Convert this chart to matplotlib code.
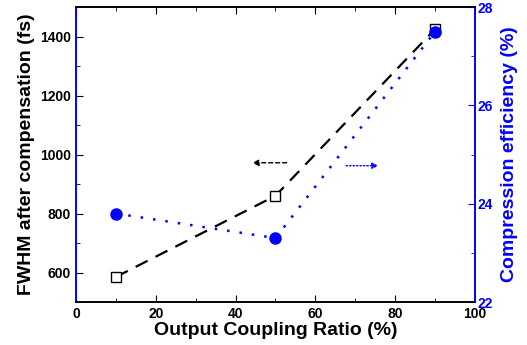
import matplotlib
matplotlib.use("Agg")
import matplotlib.pyplot as plt
from matplotlib.ticker import MultipleLocator

plt.rcParams['font.family'] = ['Liberation Sans', 'DejaVu Sans']
plt.rcParams['font.weight'] = 'bold'

# data
ratio = [10, 50, 90]
fwhm = [585, 860, 1425]
efficiency = [23.8, 23.3, 27.5]

BLUE = '#0000ff'

fig = plt.figure(figsize=(5.27, 3.45), dpi=100)
ax = fig.add_axes([0.1442, 0.1246, 0.7571, 0.8551])
ax2 = ax.twinx()

ax.plot(ratio, fwhm, color='black', linestyle=(0, (6, 4)), linewidth=1.6,
        marker='s', markersize=7.5, markerfacecolor='white', markeredgecolor='black',
        markeredgewidth=1.0, zorder=3)
ax2.plot(ratio, efficiency, color=BLUE, linestyle=(0, (1, 4)), linewidth=1.8,
         marker='o', markersize=8, markerfacecolor=BLUE, markeredgecolor=BLUE, zorder=4)

ax.set_xlim(0, 100)
ax.set_ylim(500, 1500)
ax2.set_ylim(22, 28)

ax.xaxis.set_major_locator(MultipleLocator(20))
ax.xaxis.set_minor_locator(MultipleLocator(10))
ax.yaxis.set_major_locator(MultipleLocator(200))
ax.yaxis.set_minor_locator(MultipleLocator(100))
ax2.yaxis.set_major_locator(MultipleLocator(2))
ax2.yaxis.set_minor_locator(MultipleLocator(1))

ax.tick_params(axis='x', which='both', direction='in', top=True, labelsize=10)
ax.tick_params(axis='x', which='major', length=5)
ax.tick_params(axis='x', which='minor', length=3)
ax.tick_params(axis='y', which='major', direction='in', length=5, labelsize=10)
ax.tick_params(axis='y', which='minor', direction='in', length=3)
ax2.tick_params(axis='y', which='major', direction='in', length=5, labelsize=10,
                colors=BLUE, labelcolor=BLUE, pad=2)
ax2.tick_params(axis='y', which='minor', direction='in', length=3, colors=BLUE)

for lbl in ax.get_xticklabels() + ax.get_yticklabels() + ax2.get_yticklabels():
    lbl.set_fontweight('bold')

ax2.spines['left'].set_color(BLUE)
ax2.spines['right'].set_color(BLUE)
ax.spines['left'].set_color(BLUE)
ax.spines['right'].set_color(BLUE)
for sp in ['left', 'right', 'top', 'bottom']:
    ax.spines[sp].set_linewidth(1.2)
    ax2.spines[sp].set_linewidth(1.2)

ax.set_xlabel('Output Coupling Ratio (%)', fontsize=14, fontweight='bold', labelpad=1)
ax.set_ylabel('FWHM after compensation (fs)', fontsize=14, fontweight='bold', labelpad=4)
ax2.set_ylabel('Compression efficiency (%)', fontsize=14, fontweight='bold',
               color=BLUE, labelpad=6)

# direction arrows
ax.annotate('', xy=(43.5, 972), xytext=(53.5, 972),
            arrowprops=dict(arrowstyle='-|>', color='black', linestyle=(0, (3, 2)),
                            linewidth=1.0, mutation_scale=9))
ax.annotate('', xy=(76.5, 962), xytext=(67, 962),
            arrowprops=dict(arrowstyle='-|>', color=BLUE, linestyle=(0, (1, 1.5)),
                            linewidth=1.0, mutation_scale=9))

fig.savefig('out.png', dpi=100)
